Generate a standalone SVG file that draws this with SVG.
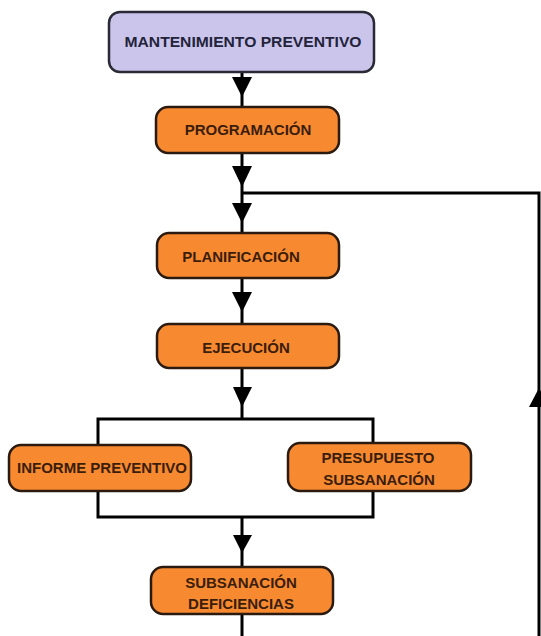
<svg xmlns="http://www.w3.org/2000/svg" width="541" height="636" viewBox="0 0 541 636">
<defs>
<style>
.bg{fill:#ffffff}
.lav{fill:#cbc5ec;stroke:#2a2a36;stroke-width:2.5}
.org{fill:#f78a30;stroke:#2a1a10;stroke-width:2.5}
.t{font-family:"Liberation Sans",Arial,sans-serif;font-weight:bold;font-size:15px;text-anchor:middle}
.tl{fill:#23233a}
.to{fill:#3b1d0c}
.ln{fill:none;stroke:#000;stroke-width:3}
.ah{fill:#000}
</style>
</defs>
<rect class="bg" x="0" y="0" width="541" height="636"/>
<g id="connectors">
<line class="ln" x1="242" y1="72" x2="242" y2="107"/>
<polygon class="ah" points="232,77 252,77 242,97"/>
<line class="ln" x1="242" y1="153" x2="242" y2="233"/>
<polygon class="ah" points="232,166 252,166 242,187"/>
<polygon class="ah" points="232,203 252,203 242,223"/>
<polyline class="ln" points="242,193 539,193 539,636"/>
<polygon class="ah" points="529,407 549,407 539,388"/>
<line class="ln" x1="242" y1="278" x2="242" y2="324"/>
<polygon class="ah" points="232,292 252,292 242,312"/>
<line class="ln" x1="242" y1="368" x2="242" y2="419"/>
<polygon class="ah" points="233,387 252,387 242,407"/>
<polyline class="ln" points="98,445 98,419 373,419 373,443"/>
<polyline class="ln" points="98,491 98,517 373,517 373,491"/>
<line class="ln" x1="242" y1="517" x2="242" y2="567"/>
<polygon class="ah" points="233,535 252,535 242,553"/>
<line class="ln" x1="242" y1="614" x2="242" y2="636"/>
</g>
<g id="mantenimiento">
<rect class="lav" x="109" y="12" width="265" height="60" rx="11"/>
<text class="t tl" x="243" y="47" textLength="237" lengthAdjust="spacingAndGlyphs">MANTENIMIENTO PREVENTIVO</text>
</g>
<g id="programacion">
<rect class="org" x="156" y="107" width="183" height="46" rx="12"/>
<text class="t to" x="248" y="135">PROGRAMACIÓN</text>
</g>
<g id="planificacion">
<rect class="org" x="157" y="233" width="182" height="45" rx="12"/>
<text class="t to" x="241" y="262">PLANIFICACIÓN</text>
</g>
<g id="ejecucion">
<rect class="org" x="157" y="324" width="182" height="44" rx="12"/>
<text class="t to" x="246" y="353">EJECUCIÓN</text>
</g>
<g id="informe">
<rect class="org" x="9" y="445" width="182" height="46" rx="12"/>
<text class="t to" x="102" y="473">INFORME PREVENTIVO</text>
</g>
<g id="presupuesto">
<rect class="org" x="288" y="443" width="183" height="48" rx="12"/>
<text class="t to" x="378" y="463">PRESUPUESTO</text>
<text class="t to" x="379" y="485">SUBSANACIÓN</text>
</g>
<g id="subsanacion">
<rect class="org" x="151" y="567" width="182" height="47" rx="12"/>
<text class="t to" x="241" y="588">SUBSANACIÓN</text>
<text class="t to" x="241" y="609">DEFICIENCIAS</text>
</g>
</svg>
